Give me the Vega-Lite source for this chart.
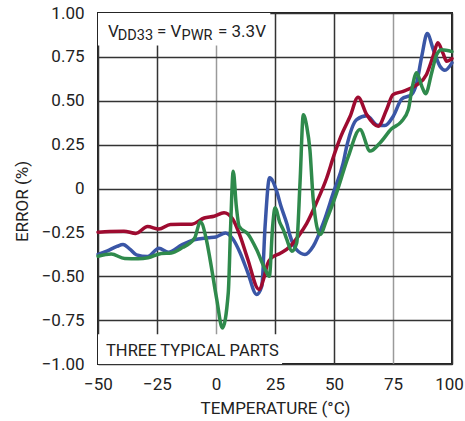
{
  "$schema": "https://vega.github.io/schema/vega-lite/v6.json",
  "width": 354,
  "height": 351,
  "autosize": {"type": "none"},
  "padding": {"left": 98, "top": 13, "right": 13, "bottom": 57},
  "background": "white",
  "config": {
    "font": "Roboto, sans-serif",
    "view": {"stroke": "#222", "strokeWidth": 2},
    "axis": {
      "ticks": false,
      "domain": false,
      "grid": true,
      "gridColor": "#333",
      "gridWidth": 1.5,
      "gridOpacity": 1,
      "labelFontSize": 17,
      "labelColor": "#222",
      "titleFont": "Roboto",
      "titleFontSize": 17,
      "titleFontWeight": "normal",
      "titleColor": "#222"
    }
  },
  "datasets": {
    "curves": [
      {"part": "A", "t": -50, "err": -0.376},
      {"part": "A", "t": -46, "err": -0.355},
      {"part": "A", "t": -42, "err": -0.33},
      {"part": "A", "t": -39.4, "err": -0.319},
      {"part": "A", "t": -36.5, "err": -0.345},
      {"part": "A", "t": -33.7, "err": -0.378},
      {"part": "A", "t": -29, "err": -0.388},
      {"part": "A", "t": -24.2, "err": -0.341},
      {"part": "A", "t": -20.2, "err": -0.363},
      {"part": "A", "t": -14.3, "err": -0.32},
      {"part": "A", "t": -9.3, "err": -0.292},
      {"part": "A", "t": -3.4, "err": -0.281},
      {"part": "A", "t": 0, "err": -0.276},
      {"part": "A", "t": 4, "err": -0.254},
      {"part": "A", "t": 7, "err": -0.285},
      {"part": "A", "t": 10.2, "err": -0.366},
      {"part": "A", "t": 13.5, "err": -0.48},
      {"part": "A", "t": 17.2, "err": -0.604},
      {"part": "A", "t": 19.4, "err": -0.557},
      {"part": "A", "t": 20.8, "err": -0.215},
      {"part": "A", "t": 22.7, "err": 0.061},
      {"part": "A", "t": 25.7, "err": -0.015},
      {"part": "A", "t": 27.5, "err": -0.1},
      {"part": "A", "t": 30, "err": -0.2},
      {"part": "A", "t": 31.4, "err": -0.27},
      {"part": "A", "t": 34.2, "err": -0.35},
      {"part": "A", "t": 37.7, "err": -0.376},
      {"part": "A", "t": 41.2, "err": -0.329},
      {"part": "A", "t": 45.5, "err": -0.196},
      {"part": "A", "t": 49.7, "err": -0.025},
      {"part": "A", "t": 53.9, "err": 0.146},
      {"part": "A", "t": 55.4, "err": 0.241},
      {"part": "A", "t": 59.6, "err": 0.393},
      {"part": "A", "t": 63.9, "err": 0.415},
      {"part": "A", "t": 68.5, "err": 0.36},
      {"part": "A", "t": 71.6, "err": 0.359},
      {"part": "A", "t": 75.1, "err": 0.412},
      {"part": "A", "t": 78.7, "err": 0.51},
      {"part": "A", "t": 82.9, "err": 0.536},
      {"part": "A", "t": 85, "err": 0.6},
      {"part": "A", "t": 87.2, "err": 0.754},
      {"part": "A", "t": 89.5, "err": 0.883},
      {"part": "A", "t": 92.1, "err": 0.79},
      {"part": "A", "t": 94.9, "err": 0.697},
      {"part": "A", "t": 97, "err": 0.674},
      {"part": "A", "t": 100, "err": 0.716},

      {"part": "B", "t": -50, "err": -0.249},
      {"part": "B", "t": -45, "err": -0.245},
      {"part": "B", "t": -39, "err": -0.243},
      {"part": "B", "t": -34, "err": -0.256},
      {"part": "B", "t": -29, "err": -0.217},
      {"part": "B", "t": -24.2, "err": -0.231},
      {"part": "B", "t": -19.3, "err": -0.205},
      {"part": "B", "t": -10.2, "err": -0.203},
      {"part": "B", "t": -5, "err": -0.168},
      {"part": "B", "t": -0.8, "err": -0.158},
      {"part": "B", "t": 3.4, "err": -0.138},
      {"part": "B", "t": 7, "err": -0.172},
      {"part": "B", "t": 10.2, "err": -0.27},
      {"part": "B", "t": 13.4, "err": -0.4},
      {"part": "B", "t": 18.2, "err": -0.575},
      {"part": "B", "t": 20.5, "err": -0.5},
      {"part": "B", "t": 21.8, "err": -0.43},
      {"part": "B", "t": 23.5, "err": -0.395},
      {"part": "B", "t": 27.1, "err": -0.37},
      {"part": "B", "t": 31.4, "err": -0.33},
      {"part": "B", "t": 35, "err": -0.27},
      {"part": "B", "t": 38.4, "err": -0.2},
      {"part": "B", "t": 42.6, "err": -0.08},
      {"part": "B", "t": 46.9, "err": 0.06},
      {"part": "B", "t": 50, "err": 0.19},
      {"part": "B", "t": 53, "err": 0.3},
      {"part": "B", "t": 56.8, "err": 0.41},
      {"part": "B", "t": 60.2, "err": 0.52},
      {"part": "B", "t": 63.9, "err": 0.42},
      {"part": "B", "t": 68.7, "err": 0.355},
      {"part": "B", "t": 72.3, "err": 0.45},
      {"part": "B", "t": 75, "err": 0.535},
      {"part": "B", "t": 79.3, "err": 0.554},
      {"part": "B", "t": 85, "err": 0.59},
      {"part": "B", "t": 89.2, "err": 0.65},
      {"part": "B", "t": 92, "err": 0.754},
      {"part": "B", "t": 94, "err": 0.83},
      {"part": "B", "t": 96.2, "err": 0.77},
      {"part": "B", "t": 97.7, "err": 0.725},
      {"part": "B", "t": 100, "err": 0.74},

      {"part": "C", "t": -50, "err": -0.386},
      {"part": "C", "t": -44.4, "err": -0.373},
      {"part": "C", "t": -38.7, "err": -0.399},
      {"part": "C", "t": -33, "err": -0.4},
      {"part": "C", "t": -28.8, "err": -0.395},
      {"part": "C", "t": -23.2, "err": -0.37},
      {"part": "C", "t": -18.9, "err": -0.367},
      {"part": "C", "t": -14, "err": -0.335},
      {"part": "C", "t": -11.9, "err": -0.319},
      {"part": "C", "t": -9, "err": -0.281},
      {"part": "C", "t": -6.6, "err": -0.19},
      {"part": "C", "t": -4.1, "err": -0.29},
      {"part": "C", "t": -2.5, "err": -0.405},
      {"part": "C", "t": 0.3, "err": -0.63},
      {"part": "C", "t": 2.7, "err": -0.795},
      {"part": "C", "t": 5.2, "err": -0.594},
      {"part": "C", "t": 6.2, "err": -0.215},
      {"part": "C", "t": 7.3, "err": 0.099},
      {"part": "C", "t": 8.6, "err": -0.1},
      {"part": "C", "t": 9.8, "err": -0.215},
      {"part": "C", "t": 13.7, "err": -0.262},
      {"part": "C", "t": 17.2, "err": -0.348},
      {"part": "C", "t": 20.8, "err": -0.46},
      {"part": "C", "t": 22.6, "err": -0.5},
      {"part": "C", "t": 24, "err": -0.215},
      {"part": "C", "t": 25, "err": -0.11},
      {"part": "C", "t": 27.1, "err": -0.196},
      {"part": "C", "t": 28.5, "err": -0.234},
      {"part": "C", "t": 30, "err": -0.29},
      {"part": "C", "t": 32.1, "err": -0.357},
      {"part": "C", "t": 34.2, "err": -0.31},
      {"part": "C", "t": 35.6, "err": 0.032},
      {"part": "C", "t": 37, "err": 0.42},
      {"part": "C", "t": 38.5, "err": 0.35},
      {"part": "C", "t": 39.8, "err": 0.22},
      {"part": "C", "t": 41.2, "err": -0.063},
      {"part": "C", "t": 44.1, "err": -0.262},
      {"part": "C", "t": 46.9, "err": -0.177},
      {"part": "C", "t": 51.1, "err": -0.025},
      {"part": "C", "t": 56, "err": 0.18},
      {"part": "C", "t": 61, "err": 0.336},
      {"part": "C", "t": 65.3, "err": 0.213},
      {"part": "C", "t": 69.5, "err": 0.26},
      {"part": "C", "t": 74.4, "err": 0.34},
      {"part": "C", "t": 78.5, "err": 0.38},
      {"part": "C", "t": 81.5, "err": 0.45},
      {"part": "C", "t": 83.2, "err": 0.58},
      {"part": "C", "t": 85, "err": 0.66},
      {"part": "C", "t": 87.2, "err": 0.583},
      {"part": "C", "t": 88.8, "err": 0.54},
      {"part": "C", "t": 91.4, "err": 0.66},
      {"part": "C", "t": 93.5, "err": 0.763},
      {"part": "C", "t": 95.6, "err": 0.79},
      {"part": "C", "t": 100, "err": 0.78}
    ]
  },
  "layer": [
    {
      "data": {"name": "curves"},
      "mark": {"type": "line", "interpolate": "monotone", "strokeWidth": 3.5, "strokeCap": "round", "strokeJoin": "round"},
      "encoding": {
        "x": {
          "field": "t",
          "type": "quantitative",
          "scale": {"domain": [-50, 100], "nice": false, "zero": false},
          "axis": {
            "title": "TEMPERATURE (°C)",
            "values": [-50, -25, 0, 25, 50, 75, 100],
            "labelFlush": false,
            "labelPadding": 12,
            "labelOffset": {"condition": {"test": "datum.value === 100", "value": -3}, "value": 0},
            "titlePadding": 8,
            "gridColor": {"condition": {"test": "datum.value === 0 || datum.value === 75", "value": "#9a9a9a"}, "value": "#333"}
          }
        },
        "y": {
          "field": "err",
          "type": "quantitative",
          "scale": {"domain": [-1, 1], "nice": false, "zero": false},
          "axis": {
            "title": "ERROR (%)",
            "values": [-1, -0.75, -0.5, -0.25, 0, 0.25, 0.5, 0.75, 1],
            "labelExpr": "datum.value === 0 ? '0' : format(datum.value, '.2f')",
            "labelPadding": 14,
            "titlePadding": 10,
            "titleY": 188
          }
        },
        "color": {
          "field": "part",
          "type": "nominal",
          "scale": {"domain": ["A", "B", "C"], "range": ["#3a56a6", "#9e0b30", "#2f8a4c"]},
          "legend": null
        }
      }
    },
    {
      "data": {"values": [{}]},
      "mark": {"type": "rect", "color": "white"},
      "encoding": {
        "x": {"datum": -50, "type": "quantitative"},
        "x2": {"datum": 23},
        "y": {"datum": 0.815, "type": "quantitative"},
        "y2": {"datum": 1}
      }
    },
    {
      "data": {"values": [{}]},
      "mark": {"type": "rect", "color": "white"},
      "encoding": {
        "x": {"datum": -50, "type": "quantitative"},
        "x2": {"datum": 28},
        "y": {"datum": -1, "type": "quantitative"},
        "y2": {"datum": -0.83}
      }
    },
    {
      "data": {"values": [{}]},
      "mark": {"type": "text", "align": "left", "baseline": "alphabetic", "font": "Roboto", "fontSize": 17, "color": "#222"},
      "encoding": {
        "x": {"datum": -45.8, "type": "quantitative"},
        "y": {"datum": 0.864, "type": "quantitative"},
        "text": {"value": "V"}
      }
    },
    {
      "data": {"values": [{}]},
      "mark": {"type": "text", "align": "left", "baseline": "alphabetic", "font": "Roboto", "fontSize": 14.5, "color": "#222"},
      "encoding": {
        "x": {"datum": -41.6, "type": "quantitative"},
        "y": {"datum": 0.845, "type": "quantitative"},
        "text": {"value": "DD33"}
      }
    },
    {
      "data": {"values": [{}]},
      "mark": {"type": "text", "align": "left", "baseline": "alphabetic", "font": "Roboto", "fontSize": 17, "color": "#222"},
      "encoding": {
        "x": {"datum": -25.0, "type": "quantitative"},
        "y": {"datum": 0.864, "type": "quantitative"},
        "text": {"value": "= V"}
      }
    },
    {
      "data": {"values": [{}]},
      "mark": {"type": "text", "align": "left", "baseline": "alphabetic", "font": "Roboto", "fontSize": 14.5, "color": "#222"},
      "encoding": {
        "x": {"datum": -14.6, "type": "quantitative"},
        "y": {"datum": 0.845, "type": "quantitative"},
        "text": {"value": "PWR"}
      }
    },
    {
      "data": {"values": [{}]},
      "mark": {"type": "text", "align": "left", "baseline": "alphabetic", "font": "Roboto", "fontSize": 17, "color": "#222"},
      "encoding": {
        "x": {"datum": 0.85, "type": "quantitative"},
        "y": {"datum": 0.864, "type": "quantitative"},
        "text": {"value": "= 3.3V"}
      }
    },
    {
      "data": {"values": [{}]},
      "mark": {"type": "text", "align": "left", "baseline": "alphabetic", "font": "Roboto", "fontSize": 16.5, "color": "#222"},
      "encoding": {
        "x": {"datum": -46.6, "type": "quantitative"},
        "y": {"datum": -0.957, "type": "quantitative"},
        "text": {"value": "THREE TYPICAL PARTS"}
      }
    }
  ]
}
